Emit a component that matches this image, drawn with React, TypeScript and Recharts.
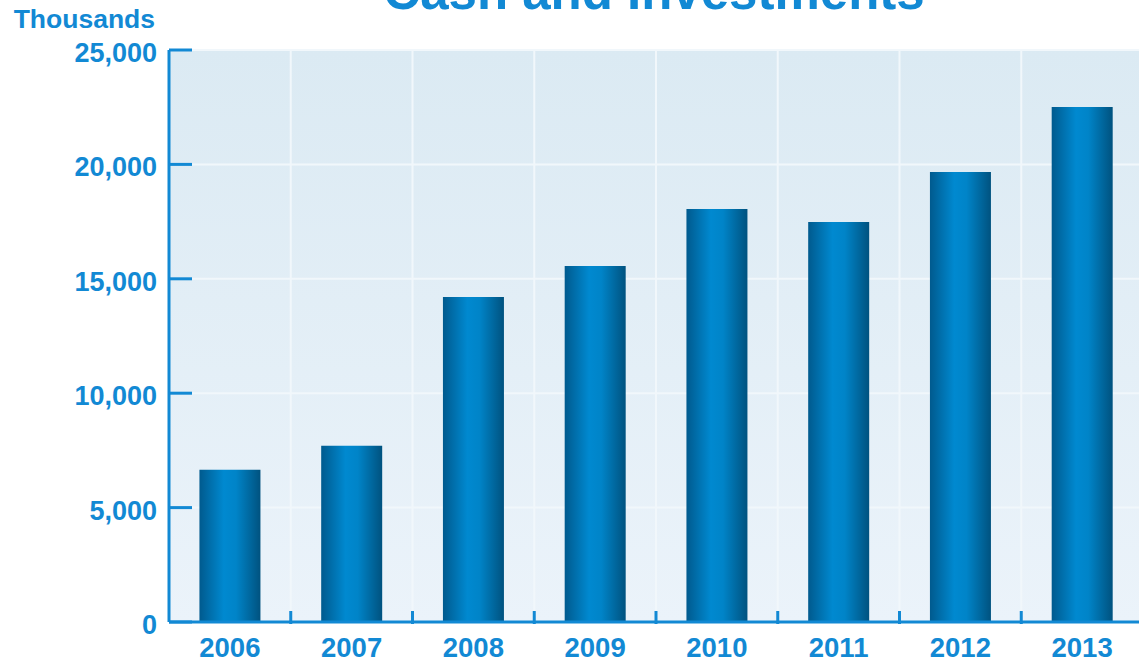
import React from 'react';
import { Bar, BarChart, CartesianGrid, XAxis, YAxis } from 'recharts';

const years = ['2006', '2007', '2008', '2009', '2010', '2011', '2012', '2013'];
const cashValues = [6650, 7700, 14200, 15560, 18050, 17480, 19670, 22510];
const yTicks = [0, 5000, 10000, 15000, 20000, 25000];

const data = years.map((year, i) => ({ year, cash: cashValues[i] }));

const BLUE = '#1289d4';
const FONT = '"Liberation Sans", Arial, sans-serif';

// y ticks point inward, into the plot
const YTick = (props: any) => {
  const { x, y, payload } = props;
  return (
    <g>
      <line x1={x + 12} x2={x + 35} y1={y} y2={y} stroke={BLUE} strokeWidth={3} />
      <text x={x} y={y} dy={12} textAnchor="end" fill={BLUE} fontSize={27} fontWeight="bold" fontFamily={FONT}>
        {payload.value.toLocaleString('en-US')}
      </text>
    </g>
  );
};

// x ticks sit on category boundaries, labels in the middle
const XTick = (props: any) => {
  const { x, y, payload, index } = props;
  const half = payload.offset || 60.75;
  return (
    <g>
      {index < years.length - 1 && (
        <line x1={x + half} x2={x + half} y1={y} y2={y - 13} stroke={BLUE} strokeWidth={3} />
      )}
      <text x={x} y={y} dy={33} textAnchor="middle" fill={BLUE} fontSize={27.5} fontWeight="bold" fontFamily={FONT}>
        {payload.value}
      </text>
    </g>
  );
};

export default function App() {
  return (
    <div style={{ position: 'absolute', left: 0, top: 0, width: 1139, height: 660, overflow: 'hidden', background: '#fff' }}>
      <div style={{ position: 'absolute', left: 0, width: 1308, top: -34, lineHeight: 1, textAlign: 'center', color: BLUE, fontFamily: FONT, fontWeight: 'bold', fontSize: 51 }}>
        Cash and Investments
      </div>
      <div style={{ position: 'absolute', right: 1139 - 155, top: 6, lineHeight: 1, color: BLUE, fontFamily: FONT, fontWeight: 'bold', fontSize: 26.5 }}>
        Thousands
      </div>
      <BarChart
        width={1146}
        height={660}
        data={data}
        margin={{ top: 50, right: 3, bottom: 0, left: 1 }}
        barCategoryGap="25%"
      >
        <defs>
          <linearGradient id="bg" x1="0" y1="0" x2="0" y2="1">
            <stop offset="0%" stopColor="#dbeaf3" />
            <stop offset="100%" stopColor="#ebf3fa" />
          </linearGradient>
          <linearGradient id="barFill" x1="0" y1="0" x2="1" y2="0">
            <stop offset="0%" stopColor="#005a8e" />
            <stop offset="40%" stopColor="#0089d0" />
            <stop offset="60%" stopColor="#0084c8" />
            <stop offset="100%" stopColor="#00527f" />
          </linearGradient>
        </defs>
        <CartesianGrid
          fill="url(#bg)"
          stroke="#f1f7fb"
          strokeWidth={2}
          verticalCoordinatesGenerator={({ offset }: any) =>
            years.map((_, i) => offset.left + (i * offset.width) / years.length)
          }
        />
        <XAxis
          dataKey="year"
          height={38}
          axisLine={{ stroke: BLUE, strokeWidth: 3 }}
          tickLine={false}
          tickSize={0}
          tick={<XTick />}
          interval={0}
        />
        <YAxis
          width={168}
          domain={[0, 25000]}
          ticks={yTicks}
          axisLine={{ stroke: BLUE, strokeWidth: 3 }}
          tickLine={false}
          tickSize={0}
          tickMargin={12}
          tick={<YTick />}
        />
        <Bar dataKey="cash" fill="url(#barFill)" isAnimationActive={false} />
      </BarChart>
    </div>
  );
}
